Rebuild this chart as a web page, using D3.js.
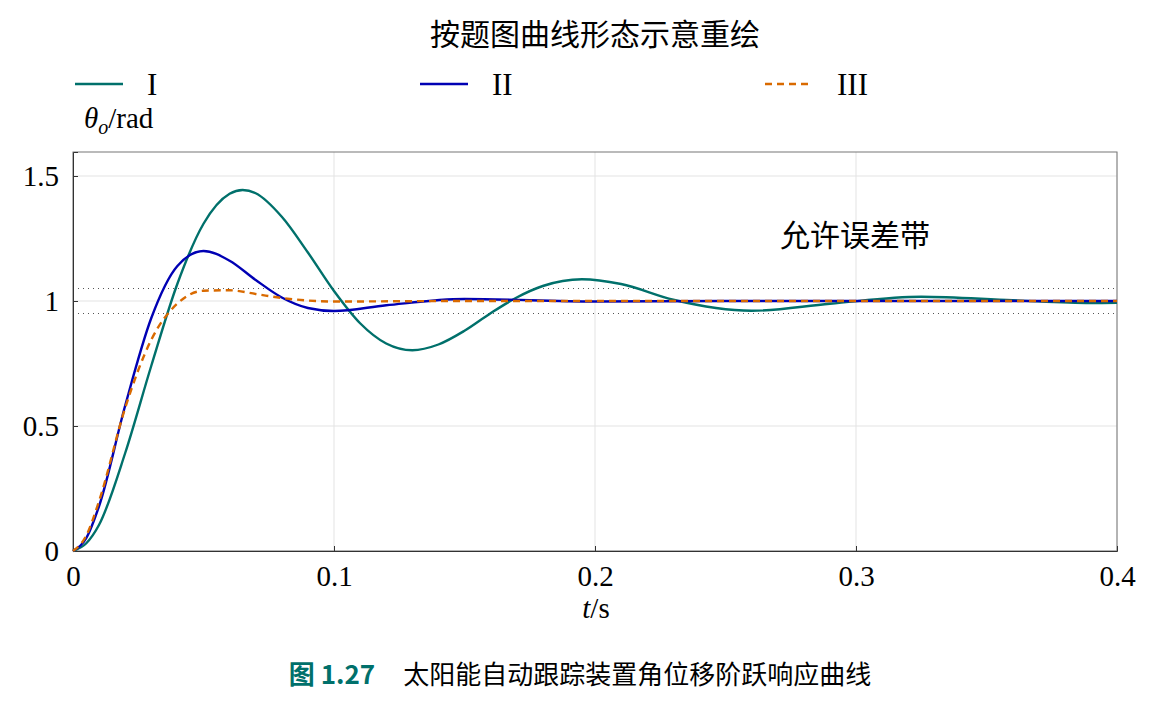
<!DOCTYPE html>
<html><head><meta charset="utf-8">
<script src="https://cdn.jsdelivr.net/npm/d3@7"></script>
<style>body{margin:0;background:#fff}</style></head>
<body><svg id="c" width="1170" height="705"></svg>
<script>
const tI  =[0,0.005,0.01,0.02,0.03,0.04,0.05,0.06,0.065,0.07,0.08,0.09,0.10,0.11,0.12,0.13,0.14,0.15,0.16,0.17,0.18,0.195,0.21,0.23,0.26,0.29,0.325,0.36,0.39,0.4];
const yI  =[0,0.03,0.105,0.392,0.741,1.069,1.309,1.429,1.444,1.431,1.337,1.194,1.040,0.911,0.830,0.803,0.826,0.881,0.951,1.014,1.06,1.087,1.068,1.005,0.961,0.989,1.017,1.003,0.992,0.993];
const tII =[0,0.005,0.01,0.02,0.03,0.04,0.05,0.06,0.07,0.08,0.09,0.10,0.12,0.15,0.2,0.25,0.3,0.4];
const yII =[0,0.05,0.18,0.582,0.932,1.14,1.2,1.161,1.084,1.014,0.972,0.96,0.983,1.008,0.998,1.0,1.0,1.0];
const tIII=[0,0.005,0.01,0.02,0.03,0.04,0.05,0.06,0.07,0.08,0.1,0.15,0.2,0.3,0.4];
const yIII=[0,0.06,0.2,0.573,0.845,0.99,1.041,1.043,1.028,1.012,0.998,1.0,1.0,1.0,1.0];
const xTicks=[0,0.1,0.2,0.3,0.4], yTicks=[0,0.5,1,1.5], band=[0.95,1.05];
const names=["I","II","III"];

const svg=d3.select("#c");
const L=73,R=1117,T=152,B=551;
const x=d3.scaleLinear().domain([0,0.4]).range([L,R]);
const y=d3.scaleLinear().domain([0,1.596]).range([B,T]);
const serif="'Liberation Serif','DejaVu Serif',serif", cjk="'Noto Sans CJK SC',sans-serif";

svg.append("g").selectAll("line").data(xTicks).join("line").attr("x1",d=>x(d)).attr("x2",d=>x(d)).attr("y1",T).attr("y2",B).attr("stroke","#e3e3e3");
svg.append("g").selectAll("line").data(yTicks).join("line").attr("y1",d=>y(d)).attr("y2",d=>y(d)).attr("x1",L).attr("x2",R).attr("stroke","#e3e3e3");
svg.append("g").selectAll("line").data(band).join("line").attr("y1",d=>y(d)).attr("y2",d=>y(d)).attr("x1",L).attr("x2",R).attr("stroke","#555").attr("stroke-dasharray","1,4");
svg.append("rect").attr("x",L).attr("y",T).attr("width",R-L).attr("height",B-T).attr("fill","none").attr("stroke","#777");

const gx=svg.append("g").attr("transform",`translate(0,${B})`).call(d3.axisBottom(x).tickValues(xTicks).tickFormat(d=>d===0?"0":d3.format(".1f")(d)).tickSize(-5).tickPadding(14));
const gy=svg.append("g").attr("transform",`translate(${L},0)`).call(d3.axisLeft(y).tickValues(yTicks).tickFormat(d=>String(d)).tickSize(-5).tickPadding(14));
[gx,gy].forEach(g=>{g.select(".domain").attr("stroke","#333");g.selectAll("text").attr("font-family",serif).attr("font-size",29).attr("fill","#000");g.selectAll(".tick line").attr("stroke","#333");});

const line=d3.line().x(d=>x(d[0])).y(d=>y(d[1])).curve(d3.curveMonotoneX);
const series=[[tI,yI,"#00706b",null],[tII,yII,"#0000b4",null],[tIII,yIII,"#d96a00","7,5"]];
series.forEach(([t,v,c,da])=>{
  svg.append("path").datum(t.map((d,i)=>[d,v[i]])).attr("d",line).attr("fill","none").attr("stroke",c).attr("stroke-width",2.4).attr("stroke-dasharray",da);
});

const lx=[75,420,765];
series.forEach((s,i)=>{
  svg.append("line").attr("x1",lx[i]).attr("x2",lx[i]+48).attr("y1",84).attr("y2",84).attr("stroke",s[2]).attr("stroke-width",2.6).attr("stroke-dasharray",s[3]);
  svg.append("text").attr("x",lx[i]+72).attr("y",95).text(names[i]).attr("font-family",serif).attr("font-size",31);
});
svg.append("text").attr("x",595).attr("y",45).attr("text-anchor","middle").attr("font-family",cjk).attr("font-size",30).text("按题图曲线形态示意重绘");
const yl=svg.append("text").attr("x",84).attr("y",128).attr("font-family",serif).attr("font-size",29);
yl.append("tspan").attr("font-style","italic").text("θ");
yl.append("tspan").attr("font-style","italic").attr("font-size",20).attr("dy",6).text("o");
yl.append("tspan").attr("dy",-6).text("/rad");
const xl=svg.append("text").attr("x",596).attr("y",618).attr("text-anchor","middle").attr("font-family",serif).attr("font-size",29);
xl.append("tspan").attr("font-style","italic").text("t");xl.append("tspan").text("/s");
svg.append("text").attr("x",855).attr("y",246).attr("text-anchor","middle").attr("font-family",cjk).attr("font-size",30).text("允许误差带");
const cap=svg.append("text").attr("x",580).attr("y",684).attr("text-anchor","middle").attr("font-size",26);
cap.append("tspan").attr("font-family",cjk).attr("font-weight","bold").attr("fill","#00706b").text("图 1.27");
cap.append("tspan").attr("font-family",cjk).attr("dx",28).text("太阳能自动跟踪装置角位移阶跃响应曲线");
</script></body></html>
